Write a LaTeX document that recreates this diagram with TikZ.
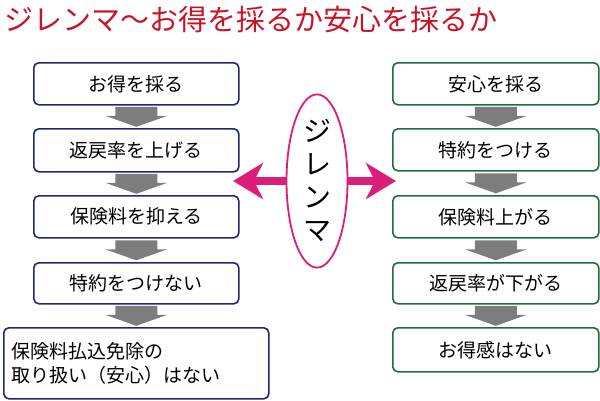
\documentclass[tikz,border=0pt]{standalone}
\usepackage{fontspec}
\newfontfamily\cjk{Noto Sans CJK JP}
\usetikzlibrary{shapes.geometric,arrows.meta}
\definecolor{lb}{RGB}{30,40,120}
\definecolor{rg}{RGB}{30,110,60}
\definecolor{mg}{RGB}{220,30,120}
\definecolor{tr}{RGB}{200,20,40}
\definecolor{ga}{RGB}{125,125,125}
\begin{document}
\begin{tikzpicture}[x=1pt,y=-1pt,font=\cjk,
 bx/.style={line width=1.6pt,rounded corners=5pt,fill=white,anchor=north west,font=\cjk\fontsize{19}{24}\selectfont,inner sep=2pt},
 lbox/.style={bx,draw=lb,minimum width=205,minimum height=42},
 rbox/.style={bx,draw=rg,minimum width=206,minimum height=42},
 garrow/.style={fill=ga,draw=none}]
\useasboundingbox (0,0) rectangle (600,400);
\node[anchor=west,text=tr,font=\cjk\fontsize{29}{32}\selectfont,inner sep=0pt] (title) at (4,19) {ジレンマ〜お得を採るか安心を採るか};
\path (33,62) node[lbox] (l1) {お得を採る};
\path (33,128) node[lbox,minimum height=43] (l2) {返戻率を上げる};
\path (33,195) node[lbox] (l3) {保険料を抑える};
\path (33,262) node[lbox,minimum height=41] (l4) {特約をつけない};
\path (3,327) node[lbox,minimum width=265,minimum height=71,align=left,text width=250] (l5) {保険料払込免除の\\取り扱い（安心）はない};
\path (392,62) node[rbox] (r1) {安心を採る};
\path (392,128) node[rbox] (r2) {特約をつける};
\path (392,195) node[rbox] (r3) {保険料上がる};
\path (392,262) node[rbox,minimum height=41] (r4) {返戻率が下がる};
\path (392,327) node[rbox,minimum height=44] (r5) {お得感はない};
\foreach \a/\b in {l1/l2,l2/l3,l3/l4,l4/l5,r1/r2,r2/r3,r3/r4,r4/r5}{
 \path (\a.south) -- (\a.south|-\b.north) coordinate[pos=0.5] (m);
 \fill[garrow,shift={(m)}] (-21,-10) -- (21,-10) -- (21,-1) -- (31,-1) -- (0,10) -- (-31,-1) -- (-21,-1) -- cycle;}
\node[ellipse,draw=mg,line width=1.8pt,fill=white,minimum width=61,minimum height=158,inner sep=0pt,align=center,font=\cjk\fontsize{28}{33}\selectfont] (e) at (317,181) {ジ\\レ\\ン\\マ};
\coordinate (lt) at (233,181);
\coordinate (rt) at (396,181);
\draw[mg,line width=8pt,-{Stealth[length=30pt,width=36pt,inset=9pt]}] (e.west) -- (lt);
\draw[mg,line width=8pt,-{Stealth[length=30pt,width=36pt,inset=9pt]}] (e.east) -- (rt);
\end{tikzpicture}
\end{document}
